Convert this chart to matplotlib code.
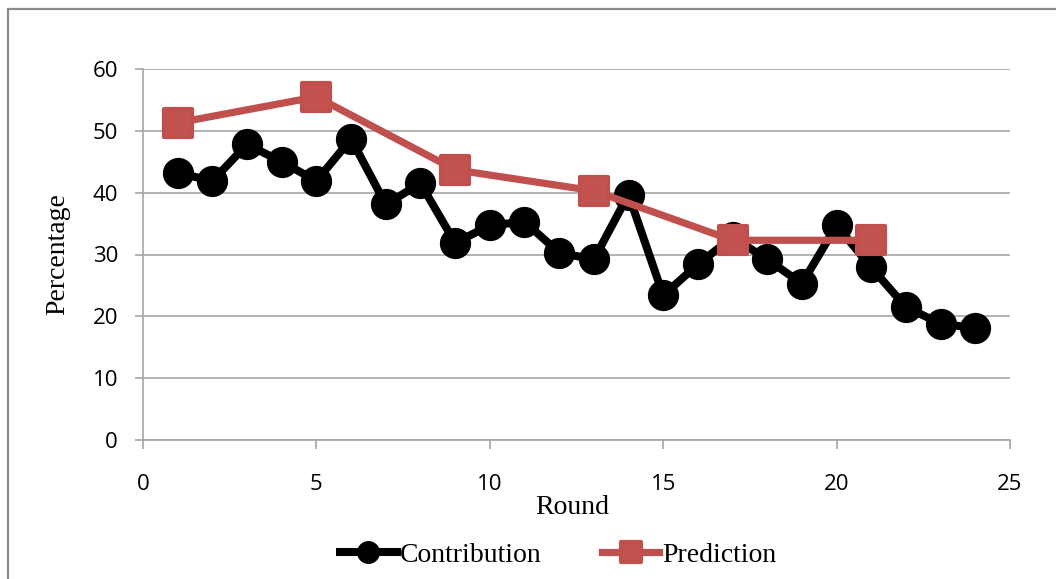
import numpy as np
import matplotlib.pyplot as plt
from matplotlib.markers import MarkerStyle
from matplotlib.patches import Rectangle

# per-round averages
rounds = np.arange(1, 25)
contribution = [43.2, 41.9, 47.8, 45.0, 41.9, 48.7, 38.1, 41.5, 31.9, 34.7,
                35.3, 30.3, 29.2, 39.7, 23.4, 28.4, 32.8, 29.2, 25.3, 34.7,
                27.9, 21.5, 18.8, 18.1]

pred_rounds = [1, 5, 9, 13, 17, 21]
prediction = [51.3, 55.5, 43.7, 40.3, 32.3, 32.3]

x_ticks = [0, 5, 10, 15, 20, 25]
y_ticks = [0, 10, 20, 30, 40, 50, 60]

grid_col = '#a6a6a6'
red = '#c0504d'

fig = plt.figure(figsize=(10.56, 5.79), dpi=100)
ax = fig.add_axes([143 / 1056, 1 - 440 / 579, (1010 - 143) / 1056, (440 - 69) / 579])

# outer chart border
fig.patches.append(Rectangle((8 / 1056, -0.05), 1.05, 1 - 9 / 579 + 0.05,
                             transform=fig.transFigure, fill=False,
                             edgecolor='#8c8c8c', linewidth=1.6))

ax.plot(rounds, contribution, color='black', linewidth=5.8,
        marker='o', markersize=21.5, label='Contribution', zorder=3)
sq = MarkerStyle('s', joinstyle='round')
ax.plot(pred_rounds, prediction, color=red, linewidth=5.2,
        marker=sq, markersize=19.5, markeredgewidth=3,
        markerfacecolor='#c4534f', markeredgecolor=red,
        label='Prediction', zorder=4)

ax.set_xlim(0, 25)
ax.set_ylim(0, 60)
ax.set_xticks(x_ticks)
ax.set_yticks(y_ticks)
ax.yaxis.grid(True, color=grid_col, linewidth=1.2)
ax.set_axisbelow(True)

for side in ['top', 'right']:
    ax.spines[side].set_visible(False)
for side in ['left', 'bottom']:
    ax.spines[side].set_color(grid_col)
    ax.spines[side].set_linewidth(1.2)

ax.tick_params(axis='both', colors=grid_col, width=1.2, labelcolor='black')
ax.tick_params(axis='y', length=6, pad=12)
ax.tick_params(axis='x', length=6.5, pad=18)
for lbl in ax.get_xticklabels() + ax.get_yticklabels():
    lbl.set_fontfamily('Open Sans')
    lbl.set_fontsize(16)

fig.text(572 / 1056, 1 - 507 / 579, 'Round', family='Liberation Serif',
         fontsize=20, ha='center', va='center')
fig.text(58 / 1056, 1 - 254 / 579, 'Percentage', family='Liberation Serif',
         fontsize=20, ha='center', va='center', rotation=90)

fig.legend(loc='center', bbox_to_anchor=(558 / 1056, 1 - 555 / 579), ncol=2,
           frameon=False, prop={'family': 'Liberation Serif', 'size': 20},
           handlelength=2.05, handletextpad=0.1, columnspacing=2.2,
           markerscale=0.72, borderaxespad=0)

fig.savefig('out.png', dpi=100)
